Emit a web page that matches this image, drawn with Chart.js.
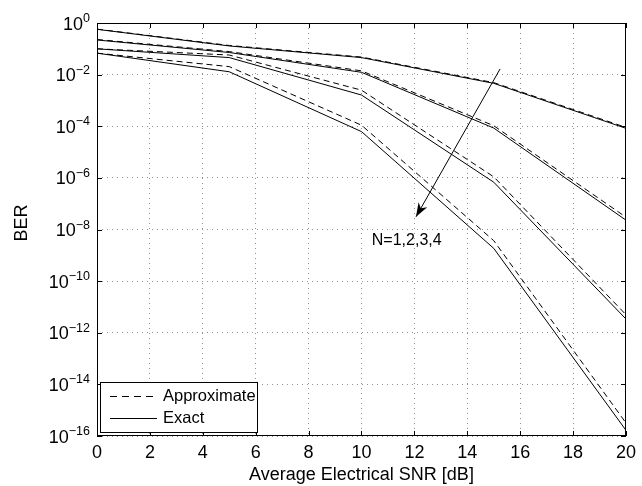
<!DOCTYPE html>
<html>
<head>
<meta charset="utf-8">
<script src="https://cdn.jsdelivr.net/npm/chart.js@4/dist/chart.umd.min.js"></script>
<style>
  body { margin: 0; background: #fff; }
  canvas { display: block; }
</style>
</head>
<body>
<canvas id="ber" width="642" height="486"></canvas>
<script>
// SNR points (dB)
const snr = [0, 5, 10, 15, 20];

// exact BER, N = 1..4
const exact1 = [0.57, 0.129, 0.0457, 4.6e-3, 8.3e-5];
const exact2 = [0.22, 0.072, 0.0123, 8.5e-5, 2.3e-8];
const exact3 = [0.10, 0.0457, 1.62e-3, 6.8e-7, 3.4e-12];
const exact4 = [0.068, 0.0129, 6.2e-5, 1.86e-9, 1.66e-16];

// approximate BER, N = 1..4
const approx1 = [0.58, 0.135, 0.048, 4.9e-3, 9.0e-5];
const approx2 = [0.23, 0.078, 0.0140, 1.05e-4, 3.0e-8];
const approx3 = [0.10, 0.0575, 2.5e-3, 1.1e-6, 5.0e-12];
const approx4 = [0.068, 0.0204, 1.1e-4, 3.7e-9, 3.2e-16];

// y tick exponents
const yTickExp = [0, -2, -4, -6, -8, -10, -12, -14, -16];
const xTicks = [0, 2, 4, 6, 8, 10, 12, 14, 16, 18, 20];

const font = '"Liberation Sans", Arial, sans-serif';

function pts(arr) {
    return snr.map((s, i) => ({x: s, y: arr[i]}));
}

function line(label, arr, dashed) {
    return {
        label: label,
        data: pts(arr),
        borderColor: '#000',
        borderWidth: 1,
        borderDash: dashed ? [6, 4] : [],
        pointRadius: 0,
        fill: false,
        tension: 0
    };
}

const extras = {
    id: 'extras',
    afterDraw(chart) {
        const ctx = chart.ctx;
        const a = chart.chartArea;
        const xs = chart.scales.x;
        const ys = chart.scales.y;
        ctx.save();

        // frame
        ctx.strokeStyle = '#000';
        ctx.lineWidth = 1;
        ctx.setLineDash([]);
        ctx.strokeRect(a.left + 0.5, a.top + 0.5, a.right - a.left - 1, a.bottom - a.top - 1);

        // inner tick marks
        ctx.beginPath();
        xTicks.forEach(v => {
            const px = Math.round(xs.getPixelForValue(v)) + 0.5;
            ctx.moveTo(px, a.bottom); ctx.lineTo(px, a.bottom - 5);
            ctx.moveTo(px, a.top); ctx.lineTo(px, a.top + 5);
        });
        yTickExp.forEach(e => {
            const py = Math.round(ys.getPixelForValue(Math.pow(10, e))) + 0.5;
            ctx.moveTo(a.left, py); ctx.lineTo(a.left + 5, py);
            ctx.moveTo(a.right, py); ctx.lineTo(a.right - 5, py);
        });
        ctx.stroke();

        // y tick labels with superscripts
        ctx.fillStyle = '#000';
        ctx.textBaseline = 'alphabetic';
        ctx.textAlign = 'left';
        yTickExp.forEach(e => {
            const py = ys.getPixelForValue(Math.pow(10, e));
            const sup = e === 0 ? '0' : '\u2212' + Math.abs(e);
            ctx.font = '12.5px ' + font;
            const sw = ctx.measureText(sup).width;
            ctx.font = '18px ' + font;
            const bw = ctx.measureText('10').width;
            const right = 90;
            ctx.fillText('10', right - sw - bw, py + 6.5);
            ctx.font = '12.5px ' + font;
            ctx.fillText(sup, right - sw, py - 1);
        });

        // y title
        ctx.save();
        ctx.translate(27, 223);
        ctx.rotate(-Math.PI / 2);
        ctx.font = '18px ' + font;
        ctx.textAlign = 'center';
        ctx.fillText('BER', 0, 0);
        ctx.restore();

        // arrow
        const x0 = xs.getPixelForValue(15.24), y0 = ys.getPixelForValue(Math.pow(10, -1.78));
        const x1 = xs.getPixelForValue(12.06), y1 = ys.getPixelForValue(Math.pow(10, -7.51));
        ctx.beginPath();
        ctx.moveTo(x0, y0); ctx.lineTo(x1, y1);
        ctx.stroke();
        const ang = Math.atan2(y1 - y0, x1 - x0);
        const hl = 14, hw = 5;
        ctx.beginPath();
        ctx.moveTo(x1, y1);
        ctx.lineTo(x1 - hl * Math.cos(ang) + hw * Math.sin(ang), y1 - hl * Math.sin(ang) - hw * Math.cos(ang));
        ctx.lineTo(x1 - hl * Math.cos(ang) * 0.7, y1 - hl * Math.sin(ang) * 0.7);
        ctx.lineTo(x1 - hl * Math.cos(ang) - hw * Math.sin(ang), y1 - hl * Math.sin(ang) + hw * Math.cos(ang));
        ctx.closePath();
        ctx.fill();

        ctx.font = '16px ' + font;
        ctx.textAlign = 'center';
        ctx.textBaseline = 'middle';
        ctx.fillText('N=1,2,3,4', xs.getPixelForValue(11.71), ys.getPixelForValue(Math.pow(10, -8.44)));

        // legend
        const lx = 100, ly = 382, lw = 157, lh = 50;
        ctx.fillStyle = '#fff';
        ctx.fillRect(lx, ly, lw, lh);
        ctx.strokeStyle = '#000';
        ctx.strokeRect(lx + 0.5, ly + 0.5, lw, lh);
        ctx.beginPath();
        ctx.setLineDash([7, 5]);
        ctx.moveTo(110, 396.5); ctx.lineTo(157, 396.5);
        ctx.stroke();
        ctx.setLineDash([]);
        ctx.beginPath();
        ctx.moveTo(110, 418.5); ctx.lineTo(157, 418.5);
        ctx.stroke();
        ctx.fillStyle = '#000';
        ctx.font = '16.5px ' + font;
        ctx.textAlign = 'left';
        ctx.textBaseline = 'middle';
        ctx.fillText('Approximate', 163, 396);
        ctx.fillText('Exact', 163, 418);

        ctx.restore();
    }
};

new Chart(document.getElementById('ber'), {
    type: 'line',
    data: {
        datasets: [
            line('Approximate N=1', approx1, true),
            line('Approximate N=2', approx2, true),
            line('Approximate N=3', approx3, true),
            line('Approximate N=4', approx4, true),
            line('Exact N=1', exact1, false),
            line('Exact N=2', exact2, false),
            line('Exact N=3', exact3, false),
            line('Exact N=4', exact4, false)
        ]
    },
    options: {
        responsive: false,
        animation: false,
        layout: { padding: { left: 0, right: 14, top: 23, bottom: 0 } },
        plugins: {
            legend: { display: false },
            tooltip: { enabled: false }
        },
        scales: {
            x: {
                type: 'linear',
                min: 0,
                max: 20,
                afterBuildTicks: s => { s.ticks = xTicks.map(v => ({value: v})); },
                afterFit: s => { s.height = 50; },
                ticks: {
                    color: '#000',
                    font: { family: font, size: 18 },
                    padding: 6,
                    maxRotation: 0
                },
                grid: { color: '#909090', drawTicks: false },
                border: { display: false, dash: [1, 4] },
                title: {
                    display: true,
                    text: 'Average Electrical SNR [dB]',
                    color: '#000',
                    font: { family: font, size: 18 },
                    padding: { top: 0, bottom: 0 }
                }
            },
            y: {
                type: 'logarithmic',
                min: 1e-16,
                max: 1,
                afterBuildTicks: s => { s.ticks = yTickExp.map(e => ({value: Math.pow(10, e)})); },
                afterFit: s => { s.width = 97; },
                ticks: { display: false },
                grid: { color: '#909090', drawTicks: false },
                border: { display: false, dash: [1, 4] }
            }
        }
    },
    plugins: [extras]
});
</script>
</body>
</html>
